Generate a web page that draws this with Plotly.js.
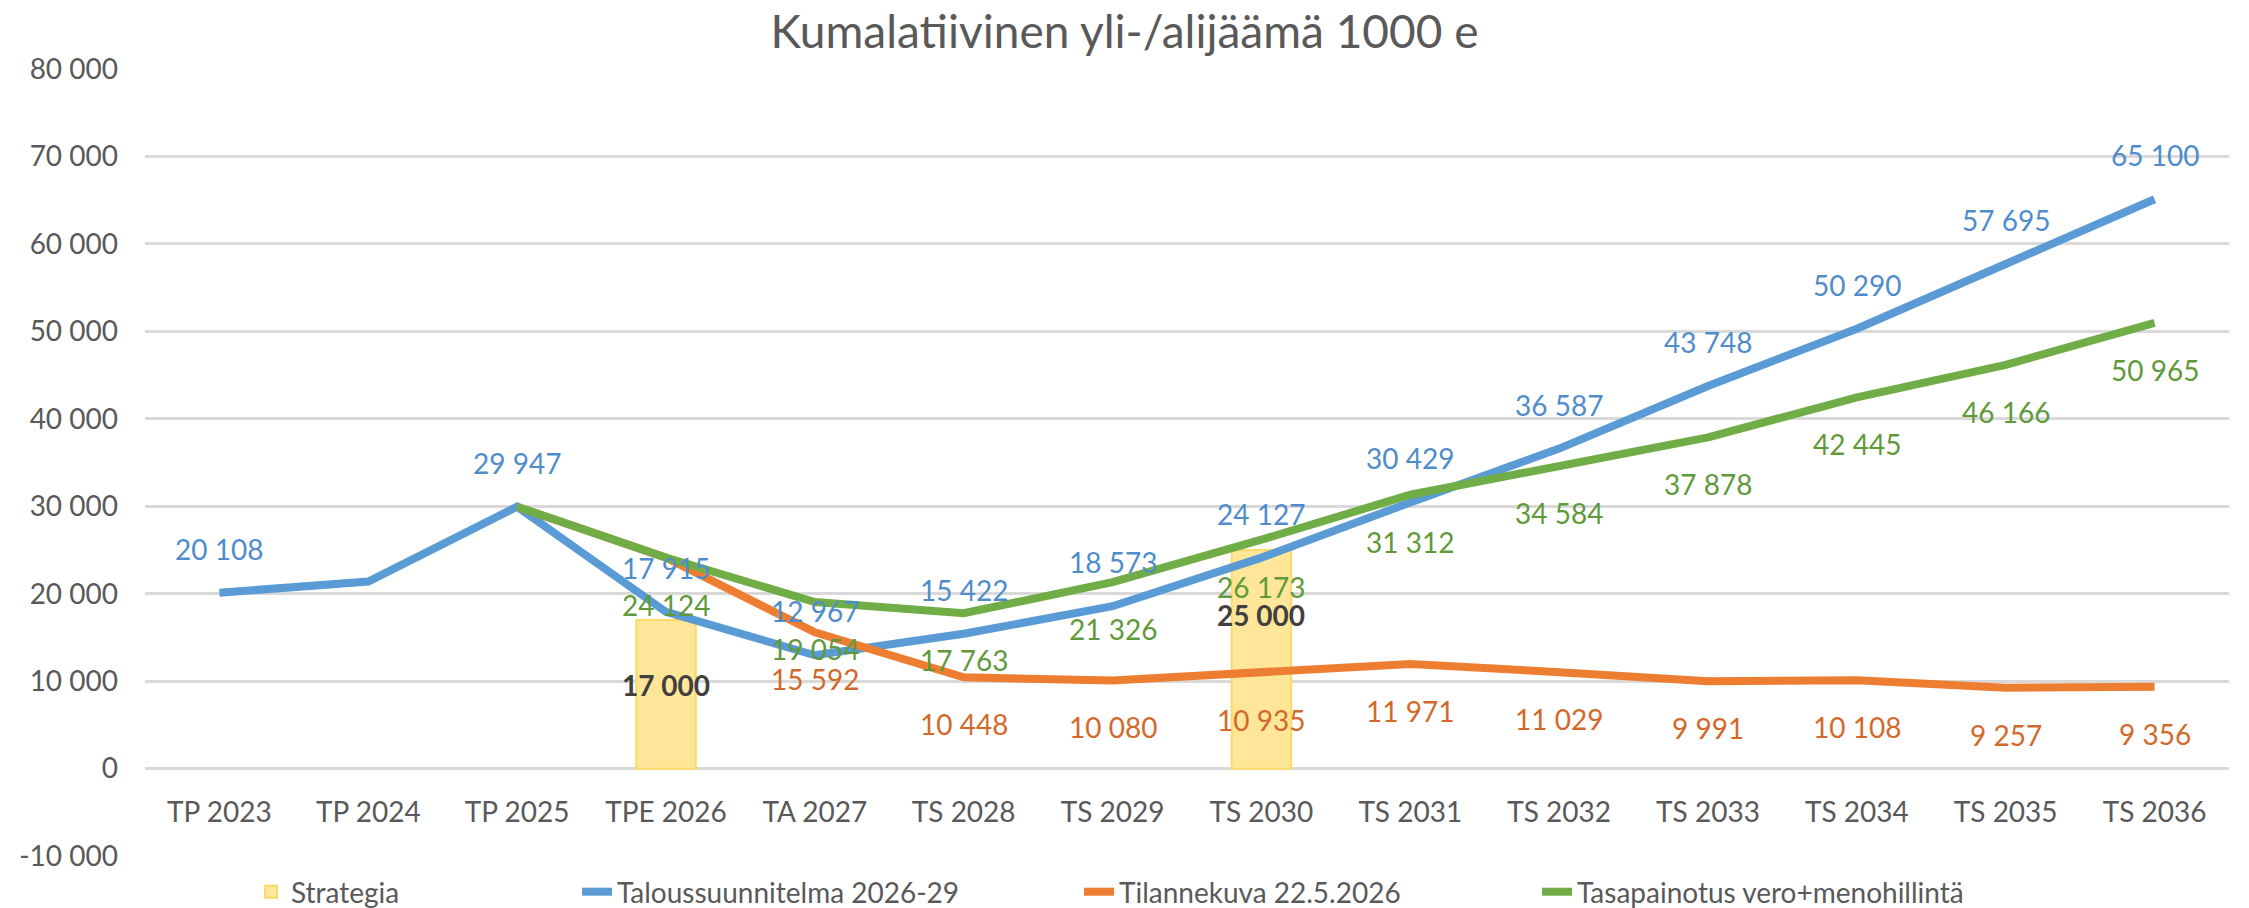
<!DOCTYPE html>
<html><head><meta charset="utf-8">
<script src="https://cdn.plot.ly/plotly-3.0.1.min.js"></script>
<style>html,body{margin:0;padding:0;background:#fff;}#chart{width:2249px;height:908px;}</style>
</head><body><div id="chart"></div>
<script>
const categories = ['TP 2023','TP 2024','TP 2025','TPE 2026','TA 2027','TS 2028','TS 2029','TS 2030','TS 2031','TS 2032','TS 2033','TS 2034','TS 2035','TS 2036'];
const strategia = [null,null,null,17000,null,null,null,25000,null,null,null,null,null,null];
const taloussuunnitelma = [20108,21400,29947,17915,12967,15422,18573,24127,30429,36587,43748,50290,57695,65100];
const tilannekuva = [null,null,29947,24124,15592,10448,10080,10935,11971,11029,9991,10108,9257,9356];
const tasapainotus = [null,null,29947,24124,19054,17763,21326,26173,31312,34584,37878,42445,46166,50965];
const labelTalous = [true,false,true,true,true,true,true,true,true,true,true,true,true,true];
const labelTilanne = [false,false,false,false,true,true,true,true,true,true,true,true,true,true];
const labelTasa = [false,false,false,true,true,true,true,true,true,true,true,true,true,true];
const yTickVals = [-10000,0,10000,20000,30000,40000,50000,60000,70000,80000];
const yTickText = ['-10 000','0','10 000','20 000','30 000','40 000','50 000','60 000','70 000','80 000'];
const seriesNames = ['Strategia','Taloussuunnitelma 2026-29','Tilannekuva 22.5.2026','Tasapainotus vero+menohillintä'];

const FONT = 'Lato, "Open Sans", sans-serif';
const GRAY = '#595959';
const C_BLUE = '#5B9BD5', C_ORANGE = '#ED7D31', C_GREEN = '#70AD47';
const L_BLUE = '#4F8CCB', L_ORANGE = '#D2692B', L_GREEN = '#5F9A3A';

function fmt(v){ return String(v).replace(/\B(?=(\d{3})+(?!\d))/g, ' '); }

const traces = [
  {type:'bar', name:seriesNames[0], legend:'legend', x:categories, y:strategia, width:0.4,
   marker:{color:'#FFE699', line:{color:'#FFD966', width:2}}, hoverinfo:'skip'},
  {type:'scatter', mode:'lines', name:seriesNames[1], legend:'legend2', x:categories, y:taloussuunnitelma,
   line:{color:C_BLUE, width:8}},
  {type:'scatter', mode:'lines', name:seriesNames[2], legend:'legend3', x:categories, y:tilannekuva,
   line:{color:C_ORANGE, width:8}},
  {type:'scatter', mode:'lines', name:seriesNames[3], legend:'legend4', x:categories, y:tasapainotus,
   line:{color:C_GREEN, width:8}}
];

const annotations = [];
function addLabels(vals, show, color, shift){
  vals.forEach((v,i)=>{
    if(v===null || !show[i]) return;
    annotations.push({x:categories[i], y:v, xref:'x', yref:'y', text:fmt(v), showarrow:false,
      yshift:shift, yanchor:'middle', xanchor:'center', font:{family:FONT, size:28, color:color}});
  });
}
addLabels(taloussuunnitelma, labelTalous, L_BLUE, 44);
addLabels(tilannekuva, labelTilanne, L_ORANGE, -47);
addLabels(tasapainotus, labelTasa, L_GREEN, -47);
strategia.forEach((v,i)=>{
  if(v===null) return;
  annotations.push({x:categories[i], y:v, xref:'x', yref:'y', text:'<b>'+fmt(v)+'</b>', showarrow:false,
    yshift:-65, yanchor:'middle', font:{family:FONT, size:28, color:'#404040'}});
});

function legendAt(px){
  return {orientation:'h', xref:'container', yref:'container', x:px/2249, xanchor:'left',
          y:1-892/908, yanchor:'middle', font:{family:FONT, size:28, color:GRAY}, bgcolor:'rgba(0,0,0,0)'};
}

const layout = {
  width:2249, height:908,
  paper_bgcolor:'#ffffff', plot_bgcolor:'#ffffff',
  margin:{l:145, r:20, t:68, b:51},
  title:{text:'Kumalatiivinen yli-/alijäämä 1000 e', font:{family:FONT, size:46, color:GRAY},
         x:0.5, xref:'container', xanchor:'center', y:1-32/908, yref:'container', yanchor:'middle'},
  xaxis:{type:'category', categoryarray:categories, range:[-0.5,13.5], showgrid:false, zeroline:false,
         showline:false, anchor:'free', position:10100/90200, ticks:'', ticklabelstandoff:24,
         tickfont:{family:FONT, size:28, color:GRAY}, fixedrange:true},
  yaxis:{range:[-10100,80100], tickvals:yTickVals, ticktext:yTickText, showgrid:true,
         gridcolor:'#D9D9D9', gridwidth:3, zeroline:true, zerolinecolor:'#D9D9D9', zerolinewidth:3,
         showline:false, ticks:'', ticklabelstandoff:26, tickfont:{family:FONT, size:28, color:GRAY}, fixedrange:true},
  showlegend:true,
  legend:legendAt(251),
  legend2:legendAt(577),
  legend3:legendAt(1079),
  legend4:legendAt(1537),
  annotations:annotations,
  bargap:0.6
};

Plotly.newPlot('chart', traces, layout, {staticPlot:true, displayModeBar:false});
</script>
</body></html>
